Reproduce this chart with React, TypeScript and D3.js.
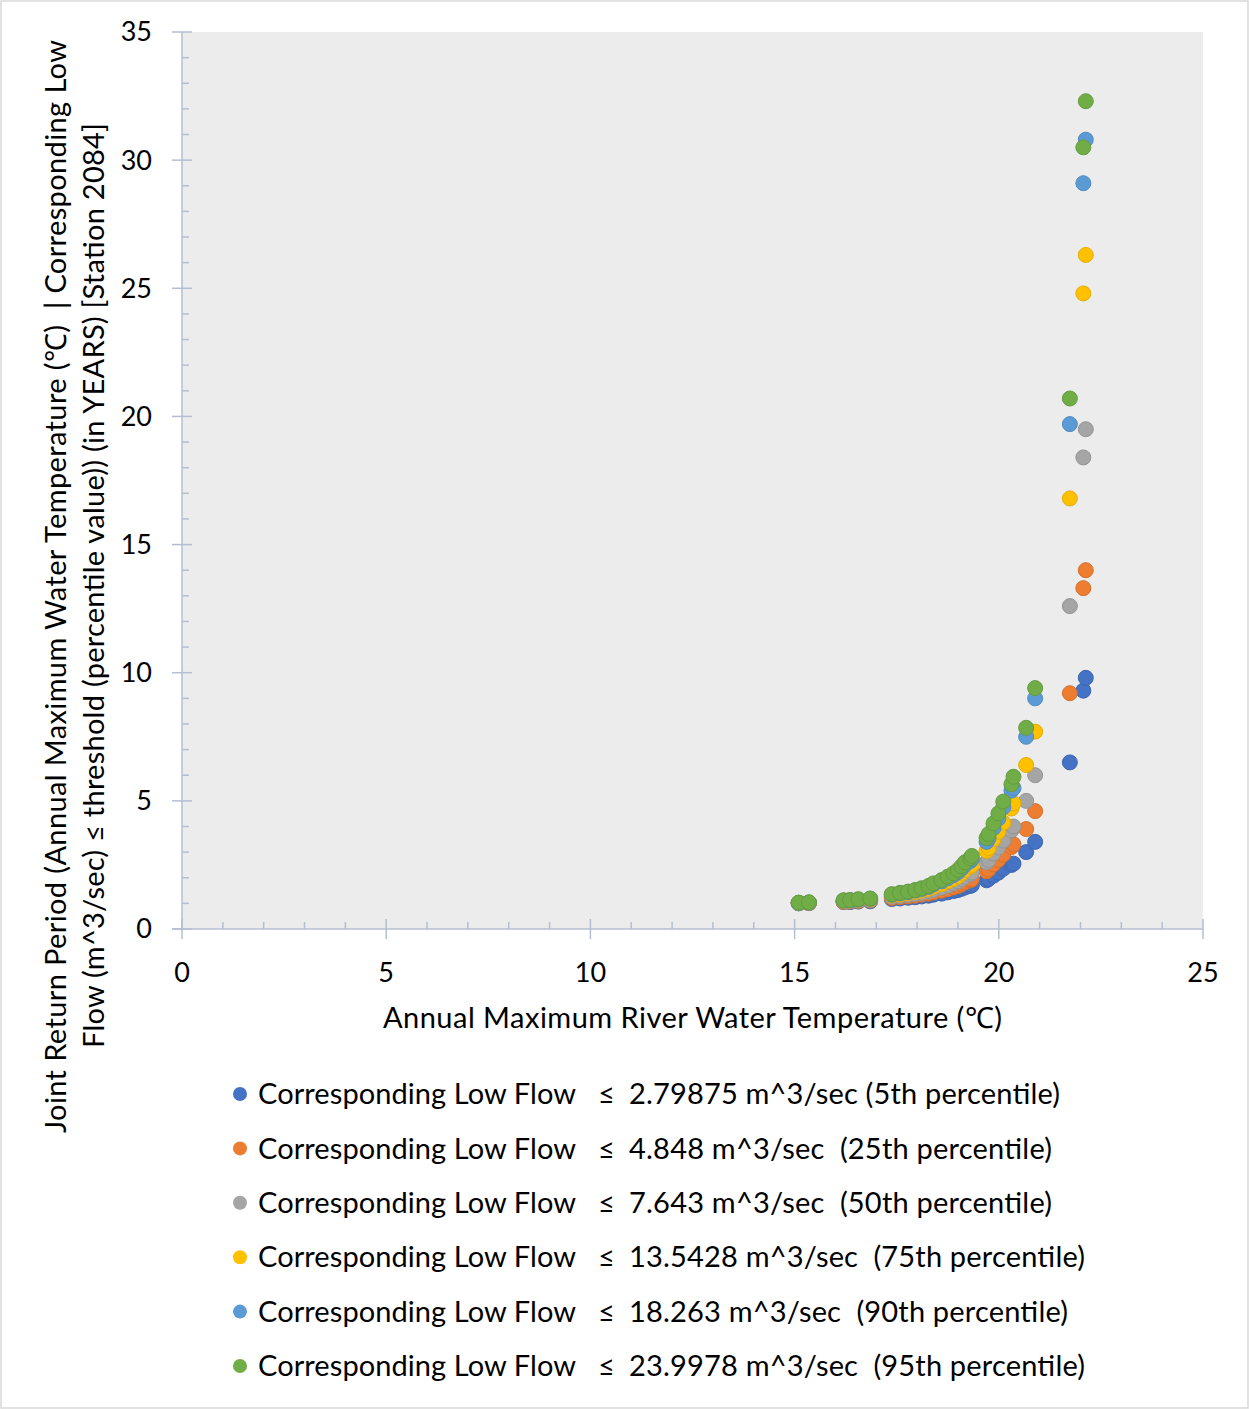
import React from 'react';
import * as d3 from 'd3';

// Annual max river water temperature (°C), shared by every series
const temps = [
    15.1, 15.35, 16.2, 16.36, 16.56, 16.85, 17.38, 17.58, 17.78, 17.95, 18.11, 18.28, 18.4, 18.6, 18.75,
    18.89, 19.0, 19.09, 19.17, 19.3, 19.34, 19.7, 19.75, 19.87, 19.99, 20.11, 20.31, 20.36, 20.67, 20.89,
    21.74, 22.07, 22.13,
];

// Joint return period (years) per low-flow threshold
const p5 = [
    1.0, 1.01, 1.05, 1.05, 1.07, 1.08, 1.17, 1.19, 1.22, 1.24, 1.27, 1.3, 1.34, 1.38, 1.43, 1.48, 1.52, 1.57,
    1.62, 1.68, 1.71, 1.9, 1.95, 2.08, 2.2, 2.35, 2.5, 2.55, 3.0, 3.4, 6.5, 9.3, 9.8,
];
const p25 = [
    1.01, 1.01, 1.06, 1.07, 1.09, 1.11, 1.21, 1.24, 1.27, 1.3, 1.34, 1.38, 1.43, 1.49, 1.55, 1.62, 1.68, 1.75,
    1.82, 1.9, 1.94, 2.25, 2.32, 2.52, 2.7, 2.9, 3.2, 3.3, 3.9, 4.6, 9.2, 13.3, 14.0,
];
const p50 = [
    1.01, 1.02, 1.08, 1.09, 1.11, 1.13, 1.26, 1.29, 1.33, 1.37, 1.41, 1.47, 1.53, 1.61, 1.69, 1.78, 1.86, 1.95,
    2.04, 2.14, 2.2, 2.6, 2.69, 2.95, 3.18, 3.45, 3.85, 4.0, 5.0, 6.0, 12.6, 18.4, 19.5,
];
const p75 = [
    1.02, 1.03, 1.1, 1.11, 1.14, 1.16, 1.31, 1.35, 1.4, 1.45, 1.5, 1.57, 1.65, 1.75, 1.86, 1.96, 2.06, 2.18,
    2.3, 2.43, 2.5, 3.05, 3.16, 3.5, 3.8, 4.15, 4.7, 4.9, 6.4, 7.7, 16.8, 24.8, 26.3,
];
const p90 = [
    1.02, 1.03, 1.11, 1.12, 1.15, 1.18, 1.34, 1.39, 1.44, 1.5, 1.56, 1.64, 1.74, 1.86, 1.98, 2.1, 2.22, 2.36,
    2.5, 2.65, 2.73, 3.4, 3.54, 3.94, 4.31, 4.75, 5.4, 5.5, 7.5, 9.0, 19.7, 29.1, 30.8,
];
const p95 = [
    1.03, 1.04, 1.12, 1.13, 1.16, 1.19, 1.36, 1.41, 1.46, 1.52, 1.59, 1.68, 1.78, 1.91, 2.04, 2.17, 2.3, 2.45,
    2.6, 2.76, 2.85, 3.55, 3.7, 4.12, 4.51, 4.97, 5.65, 5.94, 7.85, 9.4, 20.7, 30.5, 32.3,
];

const seriesValues = [p5, p25, p50, p75, p90, p95];
const seriesColors = ['#4472C4', '#ED7D31', '#A5A5A5', '#FFC000', '#5B9BD5', '#70AD47'];
const legendRest = [
    '2.79875 m^3/sec (5th percentile)',
    '4.848 m^3/sec  (25th percentile)',
    '7.643 m^3/sec  (50th percentile)',
    '13.5428 m^3/sec  (75th percentile)',
    '18.263 m^3/sec  (90th percentile)',
    '23.9978 m^3/sec  (95th percentile)',
];
// rendered width of each legend tail in the original
const legendRestWidth = [431, 423, 423, 456, 439, 456];

const xTicks = [0, 5, 10, 15, 20, 25];
const yTicks = [0, 5, 10, 15, 20, 25, 30, 35];

const W = 1249;
const H = 1409;
const FONT = 'Lato, "Open Sans", sans-serif';
const AXIS = '#b4bed2';

export default function App() {
    const x = d3.scaleLinear().domain([0, 25]).range([182, 1203]);
    const y = d3.scaleLinear().domain([0, 35]).range([929, 32]);
    const xMinor = d3.range(0, 26, 1).filter((v) => v % 5 !== 0);
    const yMinor = d3.range(0, 36, 1).filter((v) => v % 5 !== 0);

    return (
        <svg
            width={W}
            height={H}
            style={{ position: 'absolute', left: 0, top: 0, fontFamily: FONT }}
        >
            <rect x={1} y={1} width={W - 2} height={H - 2} fill="#fff" stroke="#d9d9d9" strokeWidth={1.5} />
            <rect x={x(0)} y={y(35)} width={x(25) - x(0)} height={y(0) - y(35)} fill="#ececec" />

            {/* axes */}
            <g stroke={AXIS} strokeWidth={1.5}>
                <line x1={x(0)} x2={x(0)} y1={y(35)} y2={y(0)} />
                <line x1={x(0) - 10} x2={x(25)} y1={y(0)} y2={y(0)} />
                {yTicks.map((t) => (
                    <line key={'ym' + t} x1={x(0) - 10} x2={x(0) + 10} y1={y(t)} y2={y(t)} />
                ))}
                {yMinor.map((t) => (
                    <line key={'yn' + t} x1={x(0)} x2={x(0) + 7} y1={y(t)} y2={y(t)} />
                ))}
                {xTicks.map((t) => (
                    <line key={'xm' + t} x1={x(t)} x2={x(t)} y1={y(0) - 10} y2={y(0) + 10} />
                ))}
                {xMinor.map((t) => (
                    <line key={'xn' + t} x1={x(t)} x2={x(t)} y1={y(0) - 7} y2={y(0)} />
                ))}
            </g>

            {/* tick labels */}
            <g fontSize={27} fill="#000">
                {yTicks.map((t) => (
                    <text key={'yl' + t} x={152} y={y(t)} dy="0.35em" textAnchor="end">
                        {t}
                    </text>
                ))}
                {xTicks.map((t) => (
                    <text key={'xl' + t} x={x(t)} y={982} textAnchor="middle">
                        {t}
                    </text>
                ))}
            </g>

            {/* points, first series underneath */}
            {seriesValues.map((vals, si) => (
                <g
                    key={'s' + si}
                    fill={seriesColors[si]}
                    stroke={d3.color(seriesColors[si])!.darker(0.3).toString()}
                    strokeWidth={1}
                >
                    {vals.map((v, i) => (
                        <circle key={i} cx={x(temps[i])} cy={y(v)} r={7.5} />
                    ))}
                </g>
            ))}

            {/* axis titles */}
            <text x={692.5} y={1028} fontSize={29} textAnchor="middle" textLength={619} lengthAdjust="spacing">
                Annual Maximum River Water Temperature (℃)
            </text>
            <g transform="translate(66,586.5) rotate(-90)" fontSize={29}>
                <text
                    x={0}
                    y={0}
                    textAnchor="middle"
                    style={{ whiteSpace: 'pre' }}
                    textLength={1093}
                    lengthAdjust="spacing"
                >
                    Joint Return Period (Annual Maximum Water Temperature (℃)  | Corresponding Low
                </text>
                <text x={1} y={38} textAnchor="middle" textLength={925} lengthAdjust="spacing">
                    Flow (m^3/sec) ≤ threshold (percentile value)) (in YEARS) [Station 2084]
                </text>
            </g>

            {/* legend */}
            <g fontSize={29}>
                {seriesColors.map((c, i) => {
                    const cy = 1094 + i * 54.4;
                    return (
                        <g key={'lg' + i}>
                            <circle cx={240} cy={cy} r={7} fill={c} />
                            <text x={258} y={cy} dy="0.35em" textLength={318} lengthAdjust="spacing">
                                Corresponding Low Flow
                            </text>
                            <text x={598} y={cy} dy="0.35em">≤</text>
                            <text
                                x={629}
                                y={cy}
                                dy="0.35em"
                                style={{ whiteSpace: 'pre' }}
                                textLength={legendRestWidth[i]}
                                lengthAdjust="spacing"
                            >
                                {legendRest[i]}
                            </text>
                        </g>
                    );
                })}
            </g>
        </svg>
    );
}
